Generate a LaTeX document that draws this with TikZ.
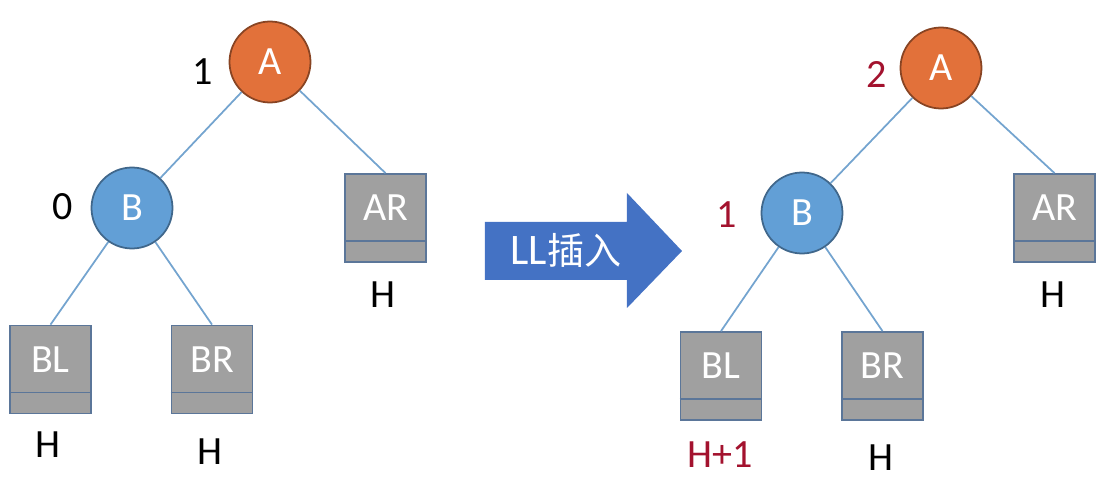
\documentclass[tikz,border=0pt]{standalone}
\usepackage{fontspec}
\setmainfont{Carlito}
\newfontfamily\cjk[Scale=0.85]{Noto Sans CJK SC}
\definecolor{nodeorange}{HTML}{E2713A}
\definecolor{nodeblue}{HTML}{629FD6}
\definecolor{boxgray}{HTML}{A0A0A0}
\definecolor{boxline}{HTML}{5B7699}
\definecolor{edgeblue}{HTML}{74A4CF}
\definecolor{arrowblue}{HTML}{4472C4}
\definecolor{balred}{HTML}{A3122E}
\begin{document}
\begin{tikzpicture}[font=\fontsize{11.4}{13}\selectfont,
  treenode/.style={circle,minimum size=0.81cm,inner sep=0pt,line width=0.5pt,text=white},
  subtree/.style={draw=boxline,fill=boxgray,line width=0.5pt,minimum width=0.81cm,minimum height=0.88cm,inner sep=0pt},
  boxtext/.style={text=white,inner sep=0pt},
  edge/.style={draw=edgeblue,line width=0.5pt},
  bal/.style={inner sep=0pt}]
\useasboundingbox (0,0) rectangle (11.1,-4.85);
% left tree
\node[treenode,fill=nodeorange,draw=nodeorange!60!black] (A1) at (2.70,-0.62) {};
\node[boxtext] (A1t) at (A1.center) {A};
\node[treenode,fill=nodeblue,draw=nodeblue!65!black] (B1) at (1.32,-2.08) {};
\node[boxtext] (B1t) at (B1.center) {B};
\node[subtree] (AR1) at (3.855,-2.18) {};
\node[subtree] (BL1) at (0.505,-3.695) {};
\node[subtree] (BR1) at (2.12,-3.695) {};
\foreach \n/\t in {AR1/AR,BL1/BL,BR1/BR}{
  \draw[boxline] ([yshift=0.22cm]\n.south west) -- ([yshift=0.22cm]\n.south east);
  \node[boxtext] at ([yshift=0.10cm]\n.center) {\t};
}
\draw[edge] (A1) -- (B1);
\draw[edge] (A1) -- (AR1.north);
\draw[edge] (B1) -- (BL1.north);
\draw[edge] (B1) -- (BR1.north);
\node[bal] (bA1) at (2.03,-0.72) {1};
\node[bal] (bB1) at (0.63,-2.07) {0};
\node[bal] (hAR1) at (3.83,-2.95) {H};
\node[bal] (hBL1) at (0.48,-4.45) {H};
\node[bal] (hBR1) at (2.10,-4.52) {H};
% arrow
\fill[arrowblue] (4.85,-2.22) -- (6.27,-2.22) -- (6.27,-1.93) -- (6.82,-2.51)
  -- (6.27,-3.08) -- (6.27,-2.80) -- (4.85,-2.80) -- cycle;
\node[text=white,inner sep=0pt,font=\fontsize{12.4}{14}\selectfont] (ins) at (5.66,-2.50) {LL{\cjk 插入}};
% right tree
\node[treenode,fill=nodeorange,draw=nodeorange!60!black] (A2) at (9.41,-0.68) {};
\node[boxtext] (A2t) at (A2.center) {A};
\node[treenode,fill=nodeblue,draw=nodeblue!65!black] (B2) at (8.02,-2.13) {};
\node[boxtext] (B2t) at (B2.center) {B};
\node[subtree] (AR2) at (10.545,-2.18) {};
\node[subtree] (BL2) at (7.21,-3.76) {};
\node[subtree] (BR2) at (8.825,-3.76) {};
\foreach \n/\t in {AR2/AR,BL2/BL,BR2/BR}{
  \draw[boxline] ([yshift=0.22cm]\n.south west) -- ([yshift=0.22cm]\n.south east);
  \node[boxtext] at ([yshift=0.10cm]\n.center) {\t};
}
\draw[edge] (A2) -- (B2);
\draw[edge] (A2) -- (AR2.north);
\draw[edge] (B2) -- (BL2.north);
\draw[edge] (B2) -- (BR2.north);
\node[bal,text=balred] (bA2) at (8.77,-0.74) {2};
\node[bal,text=balred] (bB2) at (7.27,-2.15) {1};
\node[bal] (hAR2) at (10.53,-2.95) {H};
\node[bal,text=balred] (hBL2) at (7.20,-4.55) {H+1};
\node[bal] (hBR2) at (8.81,-4.58) {H};
\end{tikzpicture}
\end{document}
